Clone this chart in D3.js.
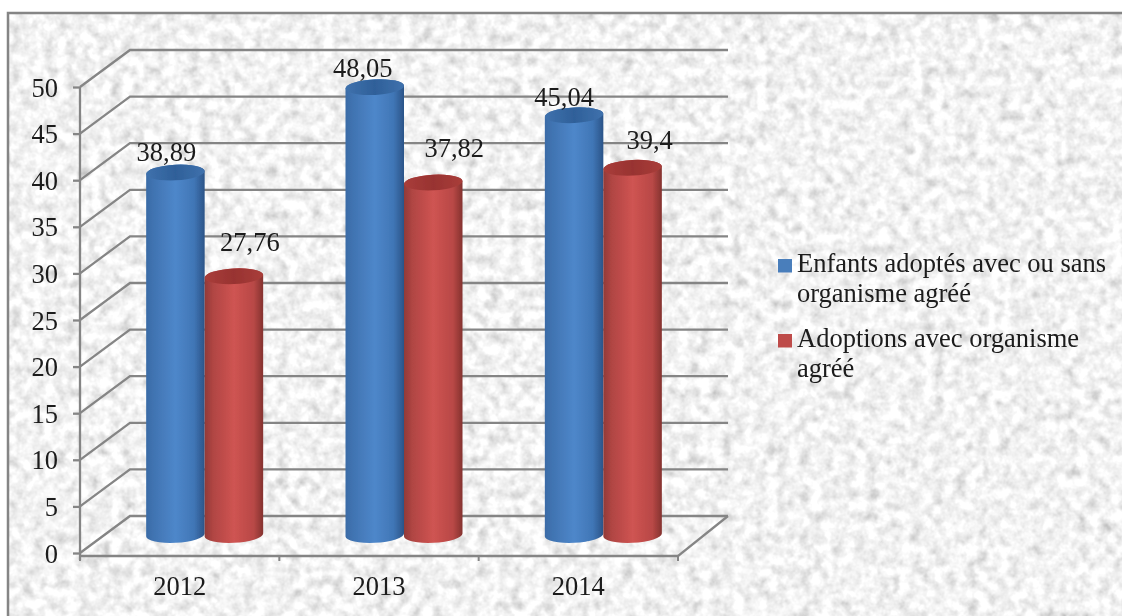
<!DOCTYPE html>
<html><head><meta charset="utf-8">
<script src="https://cdn.jsdelivr.net/npm/d3@7"></script>
<style>html,body{margin:0;padding:0;background:#fff}svg{display:block}text{font-family:"Liberation Serif",serif;fill:#1a1a1a}</style>
</head><body><div id="c"></div>
<script>
const categories = ["2012","2013","2014"];
const seriesNames = ["Enfants adoptés avec ou sans organisme agréé","Adoptions avec organisme agréé"];
const enfants = [38.89,48.05,45.04];
const adoptions = [27.76,37.82,39.4];
const yTicks = [0,5,10,15,20,25,30,35,40,45,50];
const legendLines = [["Enfants adoptés avec ou sans","organisme agréé"],["Adoptions avec organisme","agréé"]];
const W=1122,H=616, depthX=50, depthY=37, fs=26.5;
const svg=d3.select("#c").append("svg").attr("width",W).attr("height",H);
const defs=svg.append("defs");
const f=defs.append("filter").attr("id","tex").attr("x",0).attr("y",0).attr("width","100%").attr("height","100%");
f.append("feTurbulence").attr("type","fractalNoise").attr("baseFrequency","0.09").attr("numOctaves",3).attr("seed",7);
f.append("feColorMatrix").attr("type","matrix").attr("values","0.5 0.5 0 0 0.39  0.5 0.5 0 0 0.39  0.5 0.5 0 0 0.39  0 0 0 0 1");
const soft=defs.append("filter").attr("id","soft").attr("x","-5%").attr("y","-5%").attr("width","110%").attr("height","110%");
soft.append("feGaussianBlur").attr("stdDeviation",0.55);
function grad(id,stops){const g=defs.append("linearGradient").attr("id",id);
  stops.forEach(s=>g.append("stop").attr("offset",s[0]).attr("stop-color",s[1]));}
grad("b",[[0,"#3a6ba6"],[.12,"#4073b1"],[.5,"#4e87ca"],[.82,"#4076b6"],[1,"#2b5488"]]);
grad("r",[[0,"#913a38"],[.14,"#b04543"],[.5,"#cf5452"],[.84,"#b84846"],[1,"#84322f"]]);
grad("bt",[[0,"#3f71ad"],[.5,"#2f6099"],[1,"#3f71ad"]]);
grad("rt",[[0,"#a93d3a"],[.5,"#983331"],[1,"#a93d3a"]]);

svg.append("rect").attr("x",8).attr("y",13).attr("width",W).attr("height",H).attr("filter","url(#tex)");
svg.append("path").attr("d",`M${W},13H8V${H}`).attr("fill","none").attr("stroke","#858585").attr("stroke-width",2.5);

const root=svg.append("g").attr("filter","url(#soft)");
const y=d3.scaleLinear().domain([0,50]).range([553,87]);
const x0=d3.scaleBand().domain(categories).range([80,678]);
const barW=58.5;
const x1=d3.scaleBand().domain([0,1]).range([0,barW*2]);
const grey="#858585";
root.append("g").selectAll("path").data(yTicks).join("path")
 .attr("d",d=>`M80,${y(d)}L${80+depthX},${y(d)-depthY}H${80+depthX+598}`)
 .attr("fill","none").attr("stroke",grey).attr("stroke-width",2.3);
root.append("path").attr("d",`M678,556L${678+depthX},${y(0)-depthY}`).attr("fill","none").attr("stroke",grey).attr("stroke-width",2.3);
const ay=root.append("g").attr("transform","translate(80,0)").call(d3.axisLeft(y).tickValues(yTicks).tickSize(7).tickPadding(15));
ay.selectAll("path,line").attr("stroke",grey).attr("stroke-width",2.3);
ay.select(".domain").attr("d","M0,87V560");
ay.selectAll("text").attr("font-size",fs).attr("font-family","Liberation Serif").attr("fill","#1a1a1a").attr("dy","0.34em");
const ax=root.append("g").attr("transform","translate(0,556)").call(d3.axisBottom(x0).tickSize(0).tickPadding(20));
ax.select(".domain").attr("stroke",grey).attr("stroke-width",2.6).attr("d","M80,0H678");
ax.selectAll(".tick line").remove();
ax.selectAll("text").attr("font-size",fs).attr("font-family","Liberation Serif").attr("fill","#1a1a1a");
root.append("g").selectAll("line").data([...categories.map(c=>x0(c)),678]).join("line")
 .attr("x1",d=>d).attr("x2",d=>d).attr("y1",556).attr("y2",561).attr("stroke",grey).attr("stroke-width",2);

const rx=barW/2, ry=7.8, base=-18, tilt=-3, lift=1.5;
const seriesVals=[enfants,adoptions], sid=["b","r"], labelDX=[[-9,-12,-10],[16,21,17]], labelDY=[[-12,-10,-9],[-25,-26,-19]];
seriesVals.forEach((vals,s)=>{
  const g=root.append("g");
  const cx=i=>x0(categories[i])+x0.bandwidth()/2+depthX/2-barW+x1(s)+rx;
  const rows=vals.map((v,i)=>({v,i}));
  g.selectAll("path").data(rows).join("path")
   .attr("d",d=>{const t=y(d.v)+base,b=y(0)+base,c=cx(d.i);
     return `M${c-rx},${t+lift}V${b+lift}A${rx},${ry} ${tilt} 0 0 ${c+rx},${b-lift}V${t-lift}A${rx},${ry} ${tilt} 0 0 ${c-rx},${t+lift}Z`;})
   .attr("fill",`url(#${sid[s]})`);
  g.selectAll("ellipse").data(rows).join("ellipse")
   .attr("transform",d=>`translate(${cx(d.i)},${y(d.v)+base}) rotate(${tilt})`)
   .attr("rx",rx).attr("ry",ry)
   .attr("fill",`url(#${sid[s]}t)`);
  g.selectAll("text").data(rows).join("text")
   .attr("x",d=>cx(d.i)+labelDX[s][d.i]).attr("y",d=>y(d.v)+base+labelDY[s][d.i])
   .attr("text-anchor","middle").attr("font-size",fs)
   .text(d=>String(d.v).replace(".",","));
});
const swatchC=["#4a7ebb","#be4b48"];
const leg=root.append("g");
const lineY=[[272,302],[347,377]];
legendLines.forEach((ls,s)=>{
  leg.append("rect").attr("x",778).attr("y",lineY[s][0]-13).attr("width",14).attr("height",13.5).attr("fill",swatchC[s]);
  ls.forEach((t,j)=>leg.append("text").attr("x",797).attr("y",lineY[s][j]).attr("font-size",fs).text(t));
});
</script></body></html>
